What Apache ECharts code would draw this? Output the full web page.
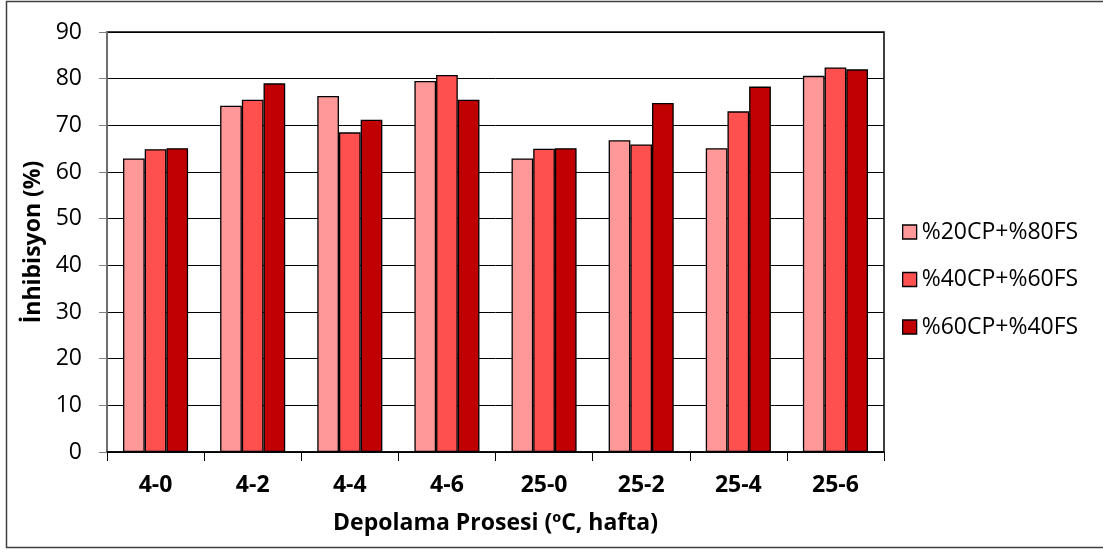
<!DOCTYPE html>
<html>
<head>
<meta charset="utf-8">
<script src="https://cdn.jsdelivr.net/npm/echarts@6/dist/echarts.min.js"></script>
<style>
  html, body { margin: 0; padding: 0; background: #fff; }
  #chart { width: 1103px; height: 552px; }
</style>
</head>
<body>
<div id="chart"></div>
<script>
// kategoriler (sıcaklık - hafta)
const categories = ['4-0', '4-2', '4-4', '4-6', '25-0', '25-2', '25-4', '25-6'];
const seriesNames = ['%20CP+%80FS', '%40CP+%60FS', '%60CP+%40FS'];
const cp20 = [62.9, 74.2, 76.3, 79.5, 62.9, 66.8, 65.1, 80.6];
const cp40 = [64.9, 75.5, 68.5, 80.8, 65.0, 65.9, 73.0, 82.4];
const cp60 = [65.1, 79.0, 71.2, 75.5, 65.1, 74.8, 78.3, 82.0];
const colors = ['#FF9999', '#FF5050', '#C00000'];

const font = "'Open Sans', sans-serif";
const myChart = echarts.init(document.getElementById('chart'), null, { renderer: 'canvas' });

function barSeries(name, data, color) {
    return {
        name: name,
        type: 'bar',
        barGap: '0%',
        barCategoryGap: '33%',
        itemStyle: { color: color, borderColor: '#000', borderWidth: 1.3 },
        data: data
    };
}

const option = {
    animation: false,
    graphic: [{
        type: 'rect',
        shape: { x: 6.5, y: 1.5, width: 1110, height: 546 },
        style: { fill: 'none', stroke: '#404040', lineWidth: 1.5 },
        silent: true
    }],
    grid: { left: 107, right: 219, top: 32, bottom: 100, show: true, borderColor: '#000', borderWidth: 1.5 },
    legend: {
        orient: 'vertical',
        left: 897,
        top: 213,
        itemWidth: 14,
        itemHeight: 14,
        itemGap: 19.5,
        icon: 'rect',
        textStyle: { fontFamily: font, fontSize: 23, lineHeight: 28, color: '#000' },
        data: seriesNames.map((n, i) => ({ name: n, itemStyle: { color: colors[i], borderColor: '#000', borderWidth: 1.3 } }))
    },
    xAxis: {
        type: 'category',
        data: categories,
        name: 'Depolama Prosesi (ºC, hafta)',
        nameLocation: 'middle',
        nameGap: 60,
        nameTextStyle: { fontFamily: font, fontSize: 23, fontWeight: 'bold', color: '#000' },
        axisLine: { lineStyle: { color: '#000', width: 1.5 } },
        axisTick: { show: true, length: 9, lineStyle: { color: '#000' } },
        axisLabel: { fontFamily: font, fontSize: 23, fontWeight: 'bold', color: '#000', margin: 22 }
    },
    yAxis: {
        type: 'value',
        min: 0,
        max: 90,
        interval: 10,
        name: 'İnhibisyon (%)',
        nameLocation: 'middle',
        nameGap: 60,
        nameTextStyle: { fontFamily: font, fontSize: 23, fontWeight: 'bold', color: '#000' },
        axisLine: { show: true, lineStyle: { color: '#808080', width: 1.5 } },
        axisTick: { show: true, inside: false, length: 8, lineStyle: { color: '#808080' } },
        axisLabel: { fontFamily: font, fontSize: 23, color: '#000', margin: 25 },
        splitLine: { lineStyle: { color: '#000', width: 1 } }
    },
    series: [
        barSeries(seriesNames[0], cp20, colors[0]),
        barSeries(seriesNames[1], cp40, colors[1]),
        barSeries(seriesNames[2], cp60, colors[2])
    ]
};
myChart.setOption(option);
</script>
</body>
</html>
